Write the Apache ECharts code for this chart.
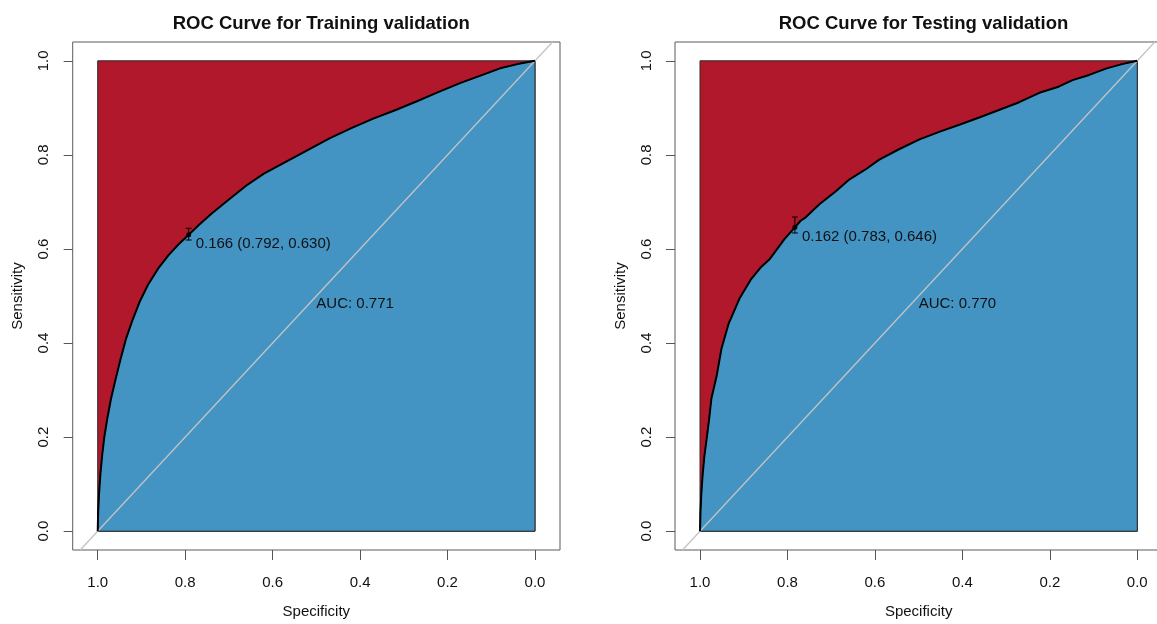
<!DOCTYPE html>
<html><head><meta charset="utf-8">
<script src="https://cdn.jsdelivr.net/npm/echarts@6/dist/echarts.min.js"></script>
<style>html,body{margin:0;padding:0;background:#fff;overflow:hidden}#c{width:1175px;height:624px}</style>
</head><body><div id="c"></div>
<script>
// ---- data ----
const titles = ['ROC Curve for Training validation', 'ROC Curve for Testing validation'];
const tickValues = [0, 0.2, 0.4, 0.6, 0.8, 1.0];

const trainSpec = [1.000,0.999,0.997,0.994,0.990,0.985,0.978,0.970,0.960,0.948,0.935,0.920,0.903,0.885,0.862,0.838,0.815,0.792,0.770,0.740,0.700,0.660,0.620,0.570,0.520,0.470,0.420,0.370,0.320,0.270,0.220,0.170,0.120,0.080,0.040,0.000];
const trainSens = [0.000,0.040,0.080,0.120,0.160,0.200,0.240,0.280,0.320,0.365,0.410,0.450,0.490,0.524,0.558,0.587,0.610,0.630,0.650,0.675,0.705,0.735,0.760,0.785,0.810,0.835,0.857,0.877,0.895,0.914,0.934,0.953,0.970,0.984,0.993,1.000];

const testSpec = [1.000,0.999,0.997,0.994,0.990,0.985,0.979,0.974,0.962,0.951,0.935,0.910,0.883,0.862,0.841,0.807,0.783,0.770,0.760,0.727,0.690,0.658,0.620,0.590,0.545,0.498,0.450,0.407,0.360,0.315,0.270,0.224,0.180,0.148,0.110,0.070,0.035,0.000];
const testSens = [0.000,0.040,0.080,0.120,0.160,0.195,0.240,0.282,0.330,0.388,0.440,0.494,0.536,0.560,0.578,0.621,0.646,0.660,0.666,0.695,0.722,0.748,0.770,0.790,0.812,0.833,0.850,0.864,0.880,0.896,0.912,0.932,0.945,0.959,0.970,0.984,0.993,1.000];

const thrLabels = ['0.166 (0.792, 0.630)', '0.162 (0.783, 0.646)'];
const thrSpec = [0.792, 0.783];
const thrSens = [0.630, 0.646];
const ciLow = [0.619, 0.634];
const ciHigh = [0.644, 0.668];
const aucLabels = ['AUC: 0.771', 'AUC: 0.770'];
const aucSpec = [0.5, 0.5];
const aucSens = [0.5, 0.5];
const diagSpec = [1.04, -0.04];
const diagSens = [-0.04, 1.04];

// ---- style ----
const RED = '#B2182B', BLUE = '#4393C3';
const FONT = '"Liberation Sans", Arial, Helvetica, sans-serif';
const TXT = '#111';
const gridLefts = [72.7, 675];

const chart = echarts.init(document.getElementById('c'), null, {renderer: 'canvas'});

const grids = [], xAxes = [], yAxes = [], series = [], titleOpts = [];
const curves = [[trainSpec, trainSens], [testSpec, testSens]];

curves.forEach(([spec, sens], i) => {
  grids.push({left: gridLefts[i], top: 42, width: 487.3, height: 509.7, show: true,
    borderColor: '#5a5a5a', borderWidth: 1, backgroundColor: 'transparent', containLabel: false});
  titleOpts.push({text: titles[i], left: gridLefts[i] + 25 + 437/2, top: 9, textAlign: 'center',
    textStyle: {fontFamily: FONT, fontSize: 18.5, fontWeight: 'bold', color: TXT}});
  xAxes.push({type: 'value', gridIndex: i, min: -0.0572, max: 1.0572, inverse: true,
    name: 'Specificity', nameLocation: 'middle', nameGap: 54,
    nameTextStyle: {fontFamily: FONT, fontSize: 15, color: TXT},
    axisLine: {show: false, onZero: false}, splitLine: {show: false},
    axisTick: {show: true, inside: false, length: 10, lineStyle: {color: '#555'}, customValues: tickValues},
    axisLabel: {customValues: tickValues, formatter: v => v.toFixed(1), margin: 25,
      fontFamily: FONT, fontSize: 15, color: TXT}});
  yAxes.push({type: 'value', gridIndex: i, min: -0.04, max: 1.04,
    name: 'Sensitivity', nameLocation: 'middle', nameGap: 47,
    nameTextStyle: {fontFamily: FONT, fontSize: 15, color: TXT},
    axisLine: {show: false, onZero: false}, splitLine: {show: false},
    axisTick: {show: true, inside: false, length: 9, lineStyle: {color: '#555'}, customValues: tickValues},
    axisLabel: {customValues: tickValues, formatter: v => v.toFixed(1), margin: 21, rotate: 90,
      fontFamily: FONT, fontSize: 15, color: TXT}});

  series.push({
    type: 'custom', xAxisIndex: i, yAxisIndex: i, data: [[0, 0]], silent: true, z: 2,
    renderItem: (p, api) => {
      const c = (x, y) => api.coord([x, y]);
      const curve = spec.map((s, k) => c(s, sens[k]));
      const blue = curve.concat([c(0, 0)]);
      const x0 = c(thrSpec[i], ciLow[i]), x1 = c(thrSpec[i], ciHigh[i]);
      const pt = c(thrSpec[i], thrSens[i]);
      const auc = c(aucSpec[i], aucSens[i]);
      const d0 = c(diagSpec[0], diagSens[0]), d1 = c(diagSpec[1], diagSens[1]);
      return {type: 'group', children: [
        {type: 'polygon', shape: {points: [c(1, 0), c(1, 1), c(0, 1), c(0, 0)]},
          style: {fill: RED, stroke: '#2a2a2a', lineWidth: 1}},
        {type: 'polygon', shape: {points: blue},
          style: {fill: BLUE, stroke: '#2a2a2a', lineWidth: 1}},
        {type: 'line', shape: {x1: d0[0], y1: d0[1], x2: d1[0], y2: d1[1]},
          style: {stroke: '#C4C4C4', lineWidth: 1.3}},
        {type: 'polyline', shape: {points: curve},
          style: {stroke: '#000', lineWidth: 2, fill: null, lineJoin: 'round'}},
        {type: 'line', shape: {x1: x0[0], y1: x0[1], x2: x1[0], y2: x1[1]}, style: {stroke: '#000', lineWidth: 1}},
        {type: 'line', shape: {x1: x0[0] - 3, y1: x0[1], x2: x0[0] + 3, y2: x0[1]}, style: {stroke: '#000', lineWidth: 1}},
        {type: 'line', shape: {x1: x1[0] - 3, y1: x1[1], x2: x1[0] + 3, y2: x1[1]}, style: {stroke: '#000', lineWidth: 1}},
        {type: 'circle', shape: {cx: pt[0], cy: pt[1], r: 2.5}, style: {fill: '#000'}},
        {type: 'text', x: pt[0] + 7, y: pt[1] + 2,
          style: {text: thrLabels[i], fill: TXT, font: '15px ' + FONT, align: 'left', verticalAlign: 'top',
                  textAlign: 'left', textVerticalAlign: 'top'}},
        {type: 'text', x: auc[0], y: auc[1],
          style: {text: aucLabels[i], fill: TXT, font: '15px ' + FONT, align: 'left', verticalAlign: 'top',
                  textAlign: 'left', textVerticalAlign: 'top'}}
      ]};
    }
  });
});

chart.setOption({
  animation: false,
  backgroundColor: '#fff',
  textStyle: {fontFamily: FONT},
  title: titleOpts,
  grid: grids,
  xAxis: xAxes,
  yAxis: yAxes,
  series: series
});
</script>
</body></html>
